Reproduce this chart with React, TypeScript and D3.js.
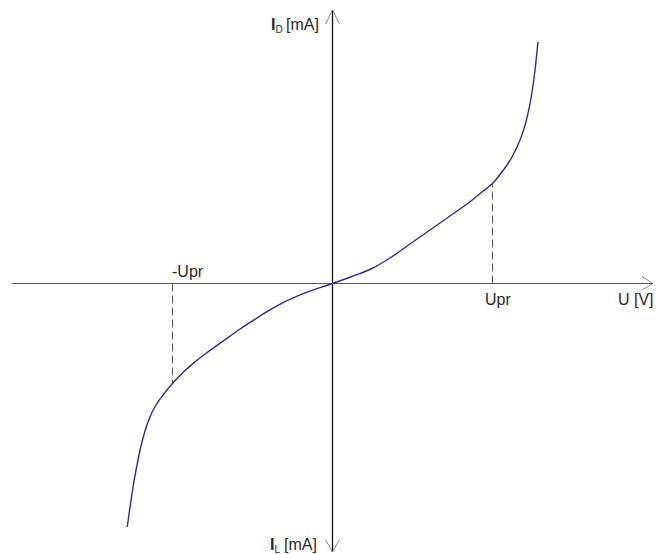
import React from "react";
import * as d3 from "d3";

// Diode-style I–U characteristic, voltage in units of Upr, current in relative units
const voltage = [
  -1.283, -1.272, -1.258, -1.243, -1.224, -1.2, -1.172, -1.141, -1.103, -1.059, -1.0, -0.941,
  -0.872, -0.778, -0.684, -0.578, -0.474, -0.378, -0.284, -0.159, 0,
  0.122, 0.247, 0.359, 0.484, 0.609, 0.734, 0.859, 0.934, 1.0, 1.066, 1.122, 1.172, 1.209, 1.241,
  1.266, 1.284,
];
const current = [
  -2.435, -2.309, -2.155, -2.0, -1.835, -1.645, -1.475, -1.335, -1.215, -1.115, -1.0, -0.9,
  -0.801, -0.684, -0.576, -0.455, -0.347, -0.252, -0.172, -0.086, 0,
  0.07, 0.15, 0.255, 0.395, 0.535, 0.675, 0.818, 0.915, 1.0, 1.13, 1.265, 1.435, 1.615, 1.855,
  2.135, 2.415,
];
const markedVoltages = [-1, 1];
const markedCurrents = [-1, 1];
const markLabels = ["-Upr", "Upr"];

const W = 658;
const H = 554;
const FONT = "'Liberation Sans', Arial, sans-serif";

export default function App() {
  const x = d3.scaleLinear().domain([-1, 1]).range([172.5, 492.5]);
  const y = d3.scaleLinear().domain([-1, 1]).range([383.5, 183.5]);
  const ox = x(0);
  const oy = y(0);

  const pts: [number, number][] = voltage.map((v, i) => [v, current[i]]);
  const line = d3
    .line<[number, number]>()
    .x((d) => x(d[0]))
    .y((d) => y(d[1]))
    .curve(d3.curveMonotoneX);

  return (
    <svg
      width={W}
      height={H}
      style={{ position: "absolute", left: 0, top: 0, display: "block", background: "#fff" }}
    >
      {/* horizontal axis with open arrow */}
      <line x1={12} y1={oy} x2={653} y2={oy} stroke="#555" strokeWidth={1.2} />
      <polyline
        points={`642,${oy - 7} 653,${oy} 642,${oy + 6.5}`}
        fill="none"
        stroke="#777"
        strokeWidth={0.9}
      />
      {/* vertical axis with open arrows at both ends */}
      <line x1={ox} y1={10} x2={ox} y2={552} stroke="#111" strokeWidth={1.3} />
      <polyline
        points={`${ox - 7},24 ${ox},10 ${ox + 7},24`}
        fill="none"
        stroke="#777"
        strokeWidth={0.9}
      />
      <polyline
        points={`${ox - 7},539.5 ${ox},552 ${ox + 7},539.5`}
        fill="none"
        stroke="#777"
        strokeWidth={0.9}
      />

      {/* dashed drop lines at ±Upr */}
      {markedVoltages.map((v, i) => (
        <line
          key={"d" + i}
          x1={x(v)}
          y1={oy}
          x2={x(v)}
          y2={y(markedCurrents[i])}
          stroke="#555"
          strokeWidth={1}
          strokeDasharray="8 4"
        />
      ))}

      {/* characteristic curve */}
      <path d={line(pts) ?? ""} fill="none" stroke="#2b2ba3" strokeWidth={1.4} />

      {/* labels */}
      <g fontFamily={FONT} fontSize={16} fill="#2a2a2a">
        <text x={x(markedVoltages[0]) - 0.5} y={276.5}>
          {markLabels[0]}
        </text>
        <text x={x(markedVoltages[1]) - 7.5} y={305}>
          {markLabels[1]}
        </text>
        <text x={618} y={305}>
          U [V]
        </text>

        <text x={271} y={30} fontWeight="bold">
          I
        </text>
        <text x={275.5} y={33} fontSize={10}>
          D
        </text>
        <text x={286} y={29.5}>
          [mA]
        </text>

        <text x={270} y={550} fontWeight="bold">
          I
        </text>
        <text x={274.5} y={553} fontSize={10}>
          L
        </text>
        <text x={284} y={549.5}>
          [mA]
        </text>
      </g>
    </svg>
  );
}
